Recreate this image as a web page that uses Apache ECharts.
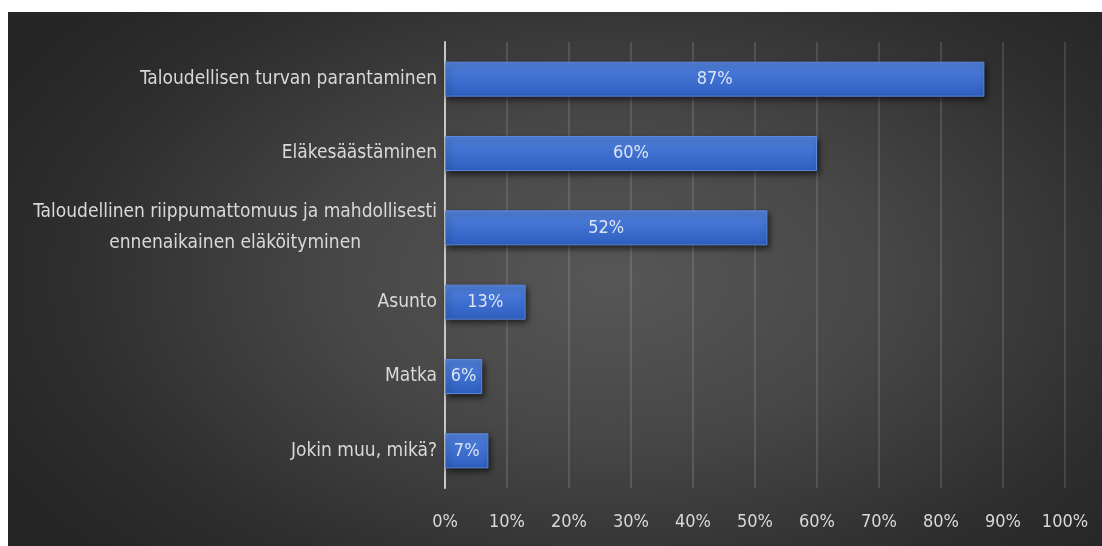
<!DOCTYPE html>
<html>
<head>
<meta charset="utf-8">
<script src="https://cdn.jsdelivr.net/npm/echarts@6/dist/echarts.min.js"></script>
<style>
  html, body { margin: 0; padding: 0; background: #ffffff; }
  #chart {
    position: absolute; left: 8px; top: 12px; width: 1094px; height: 534px;
    background: radial-gradient(ellipse 62% 75% at 55% 50%, #575757 0%, #474747 40%, #2e2e2e 80%, #262626 100%);
  }
</style>
</head>
<body>
<div id="chart"></div>
<script>
// Goals for saving and investing, share of respondents (%)
const categories = [
  'Taloudellisen turvan parantaminen',
  'Eläkesäästäminen',
  'Taloudellinen riippumattomuus ja mahdollisesti\nennenaikainen eläköityminen',
  'Asunto',
  'Matka',
  'Jokin muu, mikä?'
];
const shares = [87, 60, 52, 13, 6, 7];
const tickLabels = ['0%', '10%', '20%', '30%', '40%', '50%', '60%', '70%', '80%', '90%', '100%'];

const font = '"Liberation Sans Narrow", "DejaVu Sans Condensed", "Open Sans", sans-serif';
const chart = echarts.init(document.getElementById('chart'), null, { renderer: 'canvas' });

chart.setOption({
  backgroundColor: 'transparent',
  animation: false,
  grid: { left: 437, right: 37, top: 30, bottom: 58, containLabel: false },
  xAxis: {
    type: 'value',
    min: 0, max: 100, interval: 10,
    axisLine: { show: false },
    axisTick: { show: false },
    splitLine: { show: true, lineStyle: { color: 'rgba(255,255,255,0.12)', width: 2 } },
    axisLabel: {
      margin: 25,
      color: '#d9d9d9',
      fontSize: 18,
      fontFamily: font,
      formatter: (v) => tickLabels[Math.round(v / 10)]
    }
  },
  yAxis: {
    type: 'category',
    inverse: true,
    data: categories,
    axisLine: { show: true, lineStyle: { color: '#c8c8c8', width: 2 } },
    axisTick: { show: false },
    axisLabel: {
      margin: 8,
      color: '#d9d9d9',
      fontSize: 19,
      fontFamily: font,
      lineHeight: 31,
      formatter: (v) => v.split('\n').map(l => '{c|' + l + '}').join('\n'),
      rich: { c: { align: 'center', color: '#d9d9d9', fontSize: 19, fontFamily: font, lineHeight: 31 } }
    }
  },
  series: [{
    type: 'bar',
    data: shares,
    barWidth: 35,
    itemStyle: {
      color: new echarts.graphic.LinearGradient(0, 0, 0, 1, [
        { offset: 0, color: '#5282dc' },
        { offset: 0.5, color: '#3f70d0' },
        { offset: 1, color: '#2f5fc0' }
      ]),
      borderColor: '#5a88dc',
      borderWidth: 1,
      shadowColor: 'rgba(0,0,0,0.6)',
      shadowBlur: 6,
      shadowOffsetX: 2,
      shadowOffsetY: 3
    },
    label: {
      show: true,
      position: 'inside',
      color: '#dce4f2',
      fontSize: 18,
      fontFamily: font,
      formatter: (p) => p.value + '%'
    }
  }]
});
</script>
</body>
</html>
